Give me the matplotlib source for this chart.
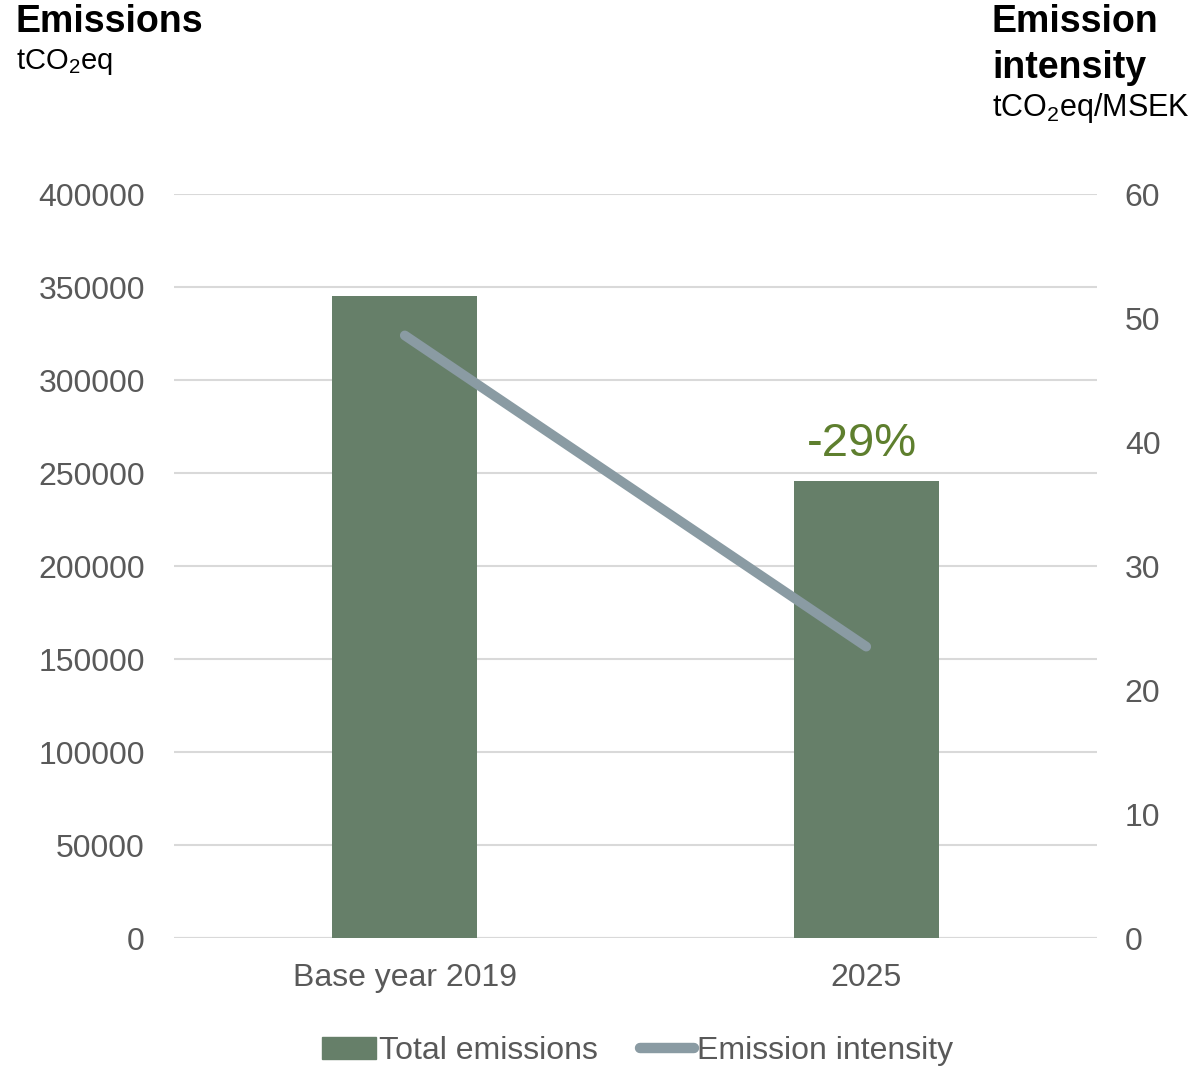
import matplotlib
matplotlib.use('Agg')
import matplotlib.pyplot as plt
from matplotlib.lines import Line2D
from matplotlib.patches import Patch

plt.rcParams['font.family'] = ['Liberation Sans', 'DejaVu Sans']
plt.rcParams['mathtext.fontset'] = 'custom'
plt.rcParams['mathtext.rm'] = 'Liberation Sans'

# Data
categories = ['Base year 2019', '2025']
total_emissions = [345000, 245700]
emission_intensity = [48.6, 23.5]
change_label = '-29%'

bar_color = '#667f69'
line_color = '#8a9ba3'
text_gray = '#595959'
grid_color = '#d9d9d9'

fig = plt.figure(figsize=(12.01, 10.68), dpi=100)
ax = fig.add_axes([0.1449, 0.1217, 0.7685, 0.6966])
ax2 = ax.twinx()

x = list(range(len(categories)))
ax.bar(x, total_emissions, width=0.314, color=bar_color, zorder=2)
ax.set_xlim(-0.5, 1.5)
ax.set_ylim(0, 400000)
ax.set_yticks(range(0, 400001, 50000))
ax.yaxis.grid(True, color=grid_color, lw=1.5, zorder=0)
ax.set_axisbelow(True)
ax.set_xticks(x)
ax.set_xticklabels(categories)

ax2.plot(x, emission_intensity, color=line_color, lw=7, solid_capstyle='round', zorder=3)
ax2.set_ylim(0, 60)
ax2.set_yticks(range(0, 61, 10))

for a in (ax, ax2):
    for s in a.spines.values():
        s.set_visible(False)
    a.tick_params(length=0, labelsize=23, labelcolor=text_gray)
ax.tick_params(axis='y', pad=21)
ax.tick_params(axis='x', pad=18)
ax2.tick_params(axis='y', pad=20)
ax.axhline(0, color=grid_color, lw=1.5, zorder=1)

ax.text(x[1] - 0.01, total_emissions[1] + 8000, change_label, ha='center', va='bottom',
        fontsize=34, color='#5e7f2e')

# axis titles
fig.text(16 / 1201, 1 - 22 / 1068, 'Emissions', fontsize=27, fontweight='bold',
         ha='left', va='center', color='black')
fig.text(16 / 1201, 1 - 62 / 1068, r'tCO$_\mathregular{2}$eq', fontsize=21,
         ha='left', va='center', color='black')
fig.text(992 / 1201, 1 - 22 / 1068, 'Emission', fontsize=27, fontweight='bold',
         ha='left', va='center', color='black')
fig.text(992 / 1201, 1 - 68 / 1068, 'intensity', fontsize=27, fontweight='bold',
         ha='left', va='center', color='black')
fig.text(992 / 1201, 1 - 108 / 1068, r'tCO$_\mathregular{2}$eq/MSEK', fontsize=22,
         ha='left', va='center', color='black')

handles = [Patch(color=bar_color, label='Total emissions'),
           Line2D([0], [0], color=line_color, lw=7.5, solid_capstyle='round',
                  label='Emission intensity')]
fig.legend(handles=handles, loc='center', bbox_to_anchor=(0.531, 1 - 1051 / 1068),
           ncol=2, frameon=False, fontsize=23, labelcolor=text_gray,
           handlelength=1.7, handletextpad=0.1, columnspacing=1.3)

fig.savefig('out.png', dpi=100)
